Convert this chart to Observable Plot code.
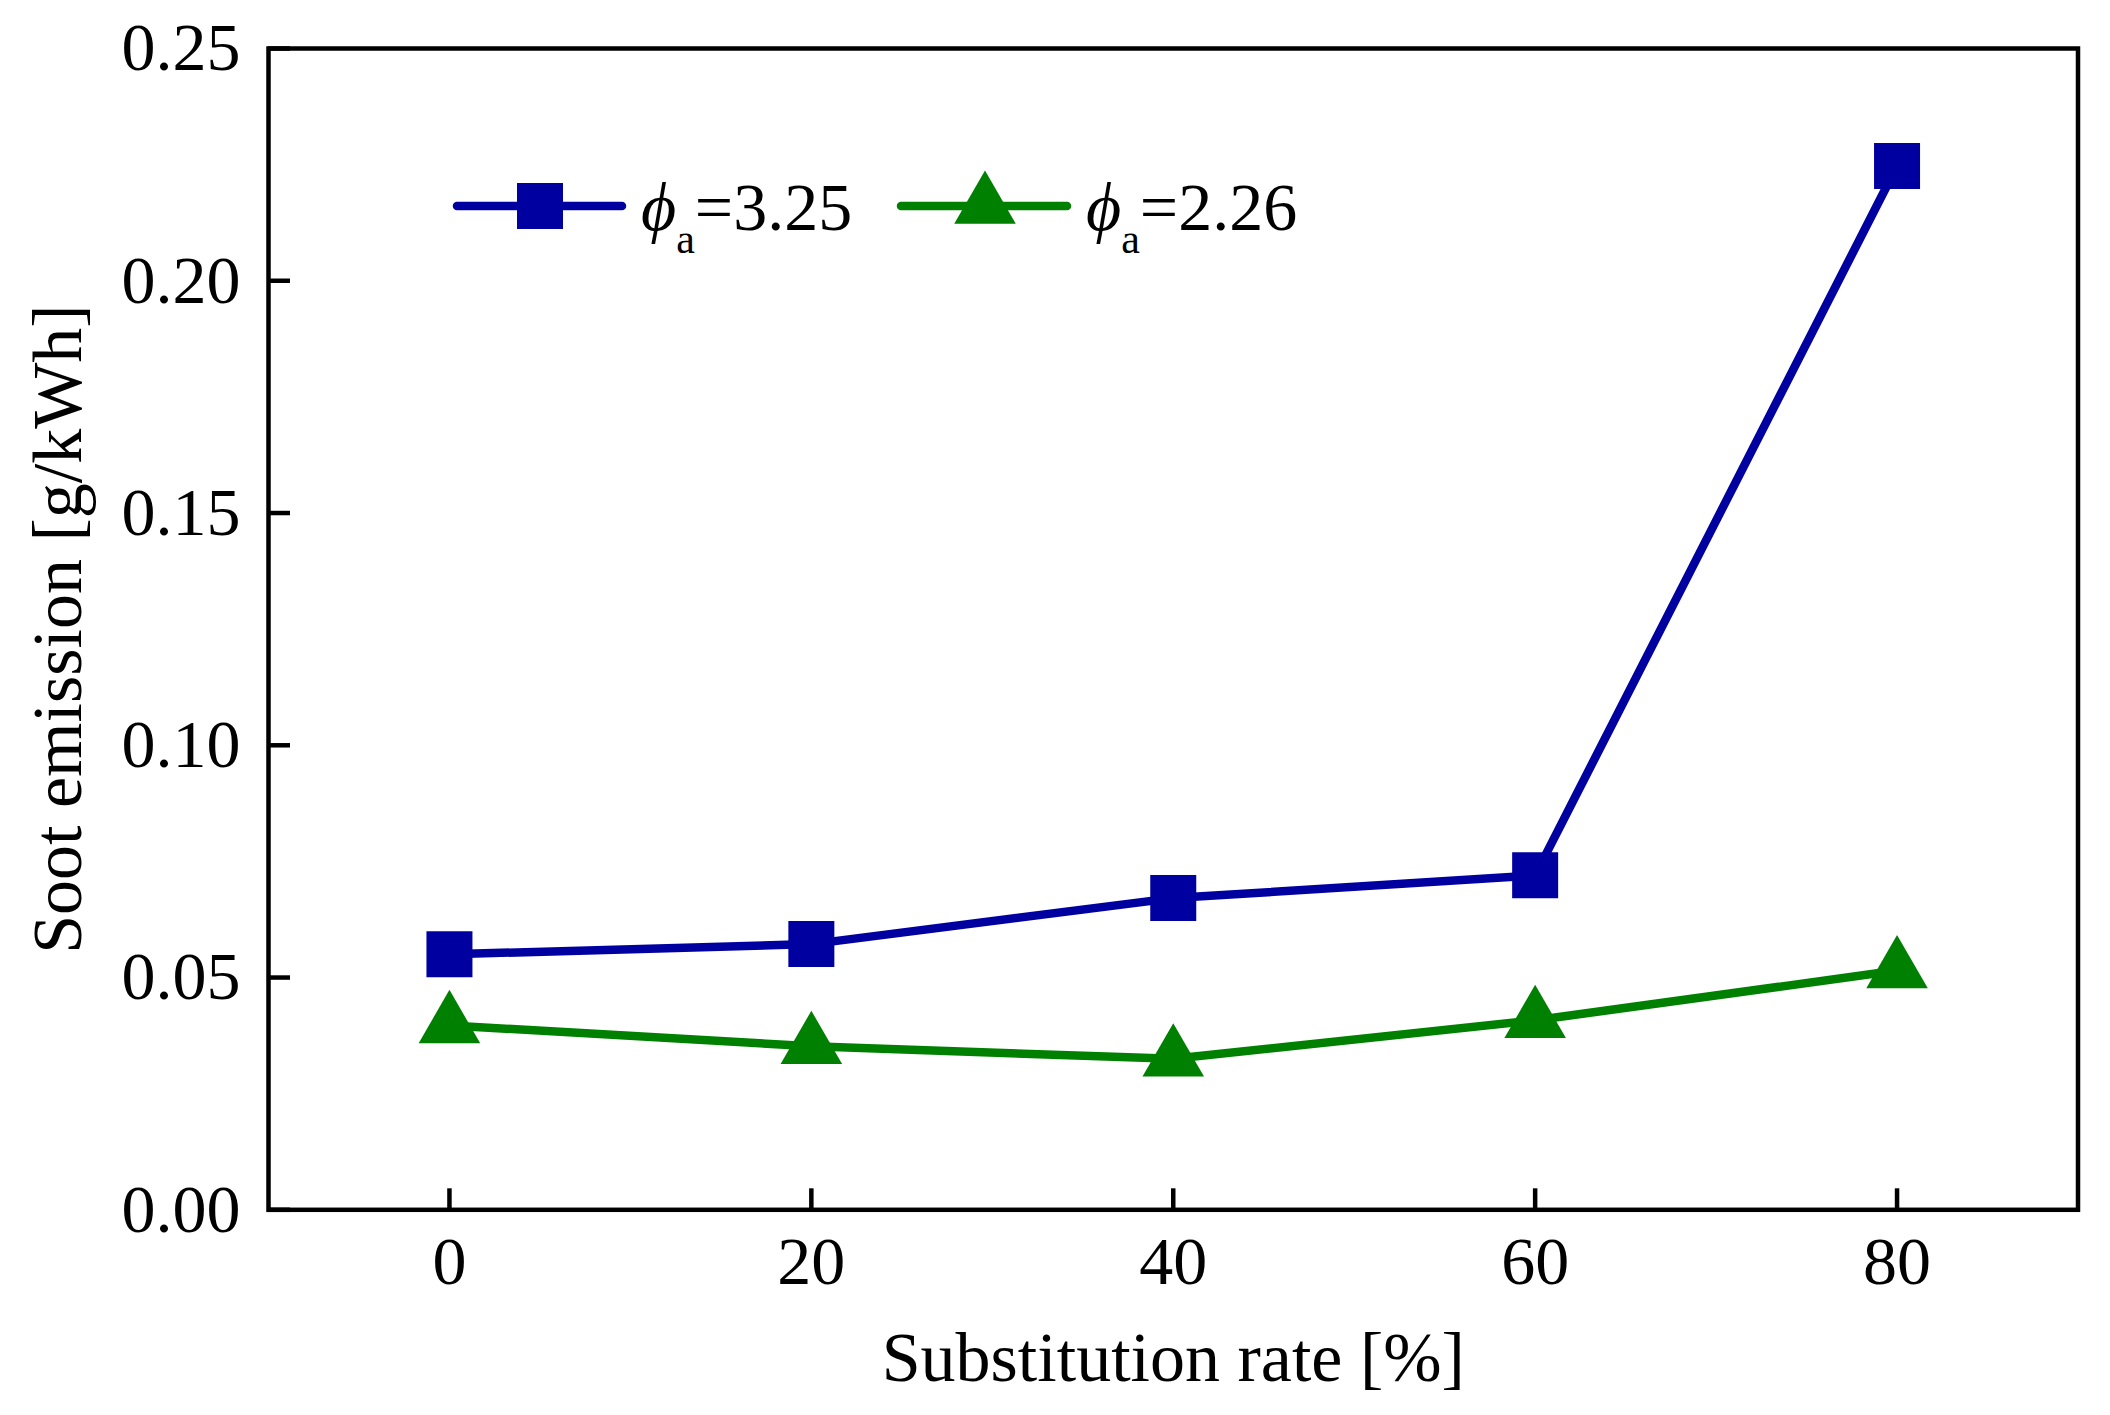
<!DOCTYPE html>
<html>
<head>
<meta charset="utf-8">
<script src="https://cdn.jsdelivr.net/npm/d3@7"></script>
<script src="https://cdn.jsdelivr.net/npm/@observablehq/plot@0.6"></script>
<style>
  html, body { margin: 0; padding: 0; background: #fff; }
  #chart svg { display: block; }
</style>
</head>
<body>
<div id="chart"></div>
<script>
// ---- data ----
const rates = [0, 20, 40, 60, 80];
const sootPhi325 = [0.055, 0.0572, 0.0671, 0.072, 0.2247];
const sootPhi226 = [0.0397, 0.0352, 0.0325, 0.0408, 0.0515];
const seriesValues = ["3.25", "2.26"];
const xTicks = [0, 20, 40, 60, 80];
const yTicks = [0, 0.05, 0.10, 0.15, 0.20, 0.25];
const xLabel = "Substitution rate [%]";
const yLabel = "Soot emission [g/kWh]";

const blue = "#0000A0";
const green = "#008000";

const rows325 = rates.map((r, i) => ({rate: r, soot: sootPhi325[i]}));
const rows226 = rates.map((r, i) => ({rate: r, soot: sootPhi226[i]}));

const W = 2110, H = 1415;
const mL = 268, mR = 32.5, mT = 48, mB = 205.7;
const sqSize = 2116, triSize = 1641;
const serif = "'Liberation Serif', 'Times New Roman', serif";

const chart = Plot.plot({
  width: W,
  height: H,
  marginLeft: mL,
  marginRight: mR,
  marginTop: mT,
  marginBottom: mB,
  style: {fontFamily: serif, fontSize: "68px", color: "black", background: "white"},
  x: {domain: [-10, 90]},
  y: {domain: [0, 0.25]},
  marks: [
    Plot.axisX({ticks: xTicks, tickSize: -21, tickPadding: 47, strokeWidth: 4.5, fontSize: 68, label: null, tickFormat: d3.format("d")}),
    Plot.axisY({ticks: yTicks, tickSize: -22, tickPadding: 50, strokeWidth: 4.5, fontSize: 68, label: null, tickFormat: d3.format(".2f")}),
    Plot.frame({stroke: "black", strokeWidth: 4.5}),
    Plot.line(rows325, {x: "rate", y: "soot", stroke: blue, strokeWidth: 8.5}),
    Plot.line(rows226, {x: "rate", y: "soot", stroke: green, strokeWidth: 8.5}),
    Plot.dot(rows325, {x: "rate", y: "soot", symbol: "square", r: Math.sqrt(sqSize / Math.PI), fill: blue, stroke: "none"}),
    Plot.dot(rows226, {x: "rate", y: "soot", symbol: "triangle", r: Math.sqrt(triSize / Math.PI), fill: green, stroke: "none"}),
    Plot.text([xLabel], {frameAnchor: "bottom", lineAnchor: "bottom", textAnchor: "middle", dy: 171.4, fontSize: 70, fill: "black"}),
    Plot.text([yLabel], {frameAnchor: "left", lineAnchor: "bottom", textAnchor: "middle", rotate: -90, dx: -188, fontSize: 70, fill: "black"})
  ]
});

document.getElementById("chart").appendChild(chart);

// ---- in-plot legend ----
const svg = d3.select(chart);
const leg = svg.append("g").attr("font-family", serif).attr("text-anchor", "start");
const items = [
  {label: seriesValues[0], color: blue, symbol: d3.symbolSquare, size: sqSize, x0: 457, x1: 622, xs: 540, xt: 641},
  {label: seriesValues[1], color: green, symbol: d3.symbolTriangle, size: triSize, x0: 901, x1: 1067, xs: 985, xt: 1086}
];
const ly = 206;
for (const it of items) {
  leg.append("line")
    .attr("x1", it.x0).attr("x2", it.x1).attr("y1", ly).attr("y2", ly)
    .attr("stroke", it.color).attr("stroke-width", 8.5).attr("stroke-linecap", "round");
  leg.append("path")
    .attr("transform", `translate(${it.xs},${ly})`)
    .attr("d", d3.symbol(it.symbol, it.size)())
    .attr("fill", it.color);
  const t = leg.append("text").attr("x", it.xt).attr("y", 230).attr("font-size", 68)
    .attr("fill", "black").attr("text-anchor", "start");
  t.append("tspan").attr("font-style", "italic").text("ϕ");
  t.append("tspan").attr("font-size", 42).attr("dy", 23).text("a");
  t.append("tspan").attr("dy", -23).text("=" + it.label);
}
</script>
</body>
</html>
